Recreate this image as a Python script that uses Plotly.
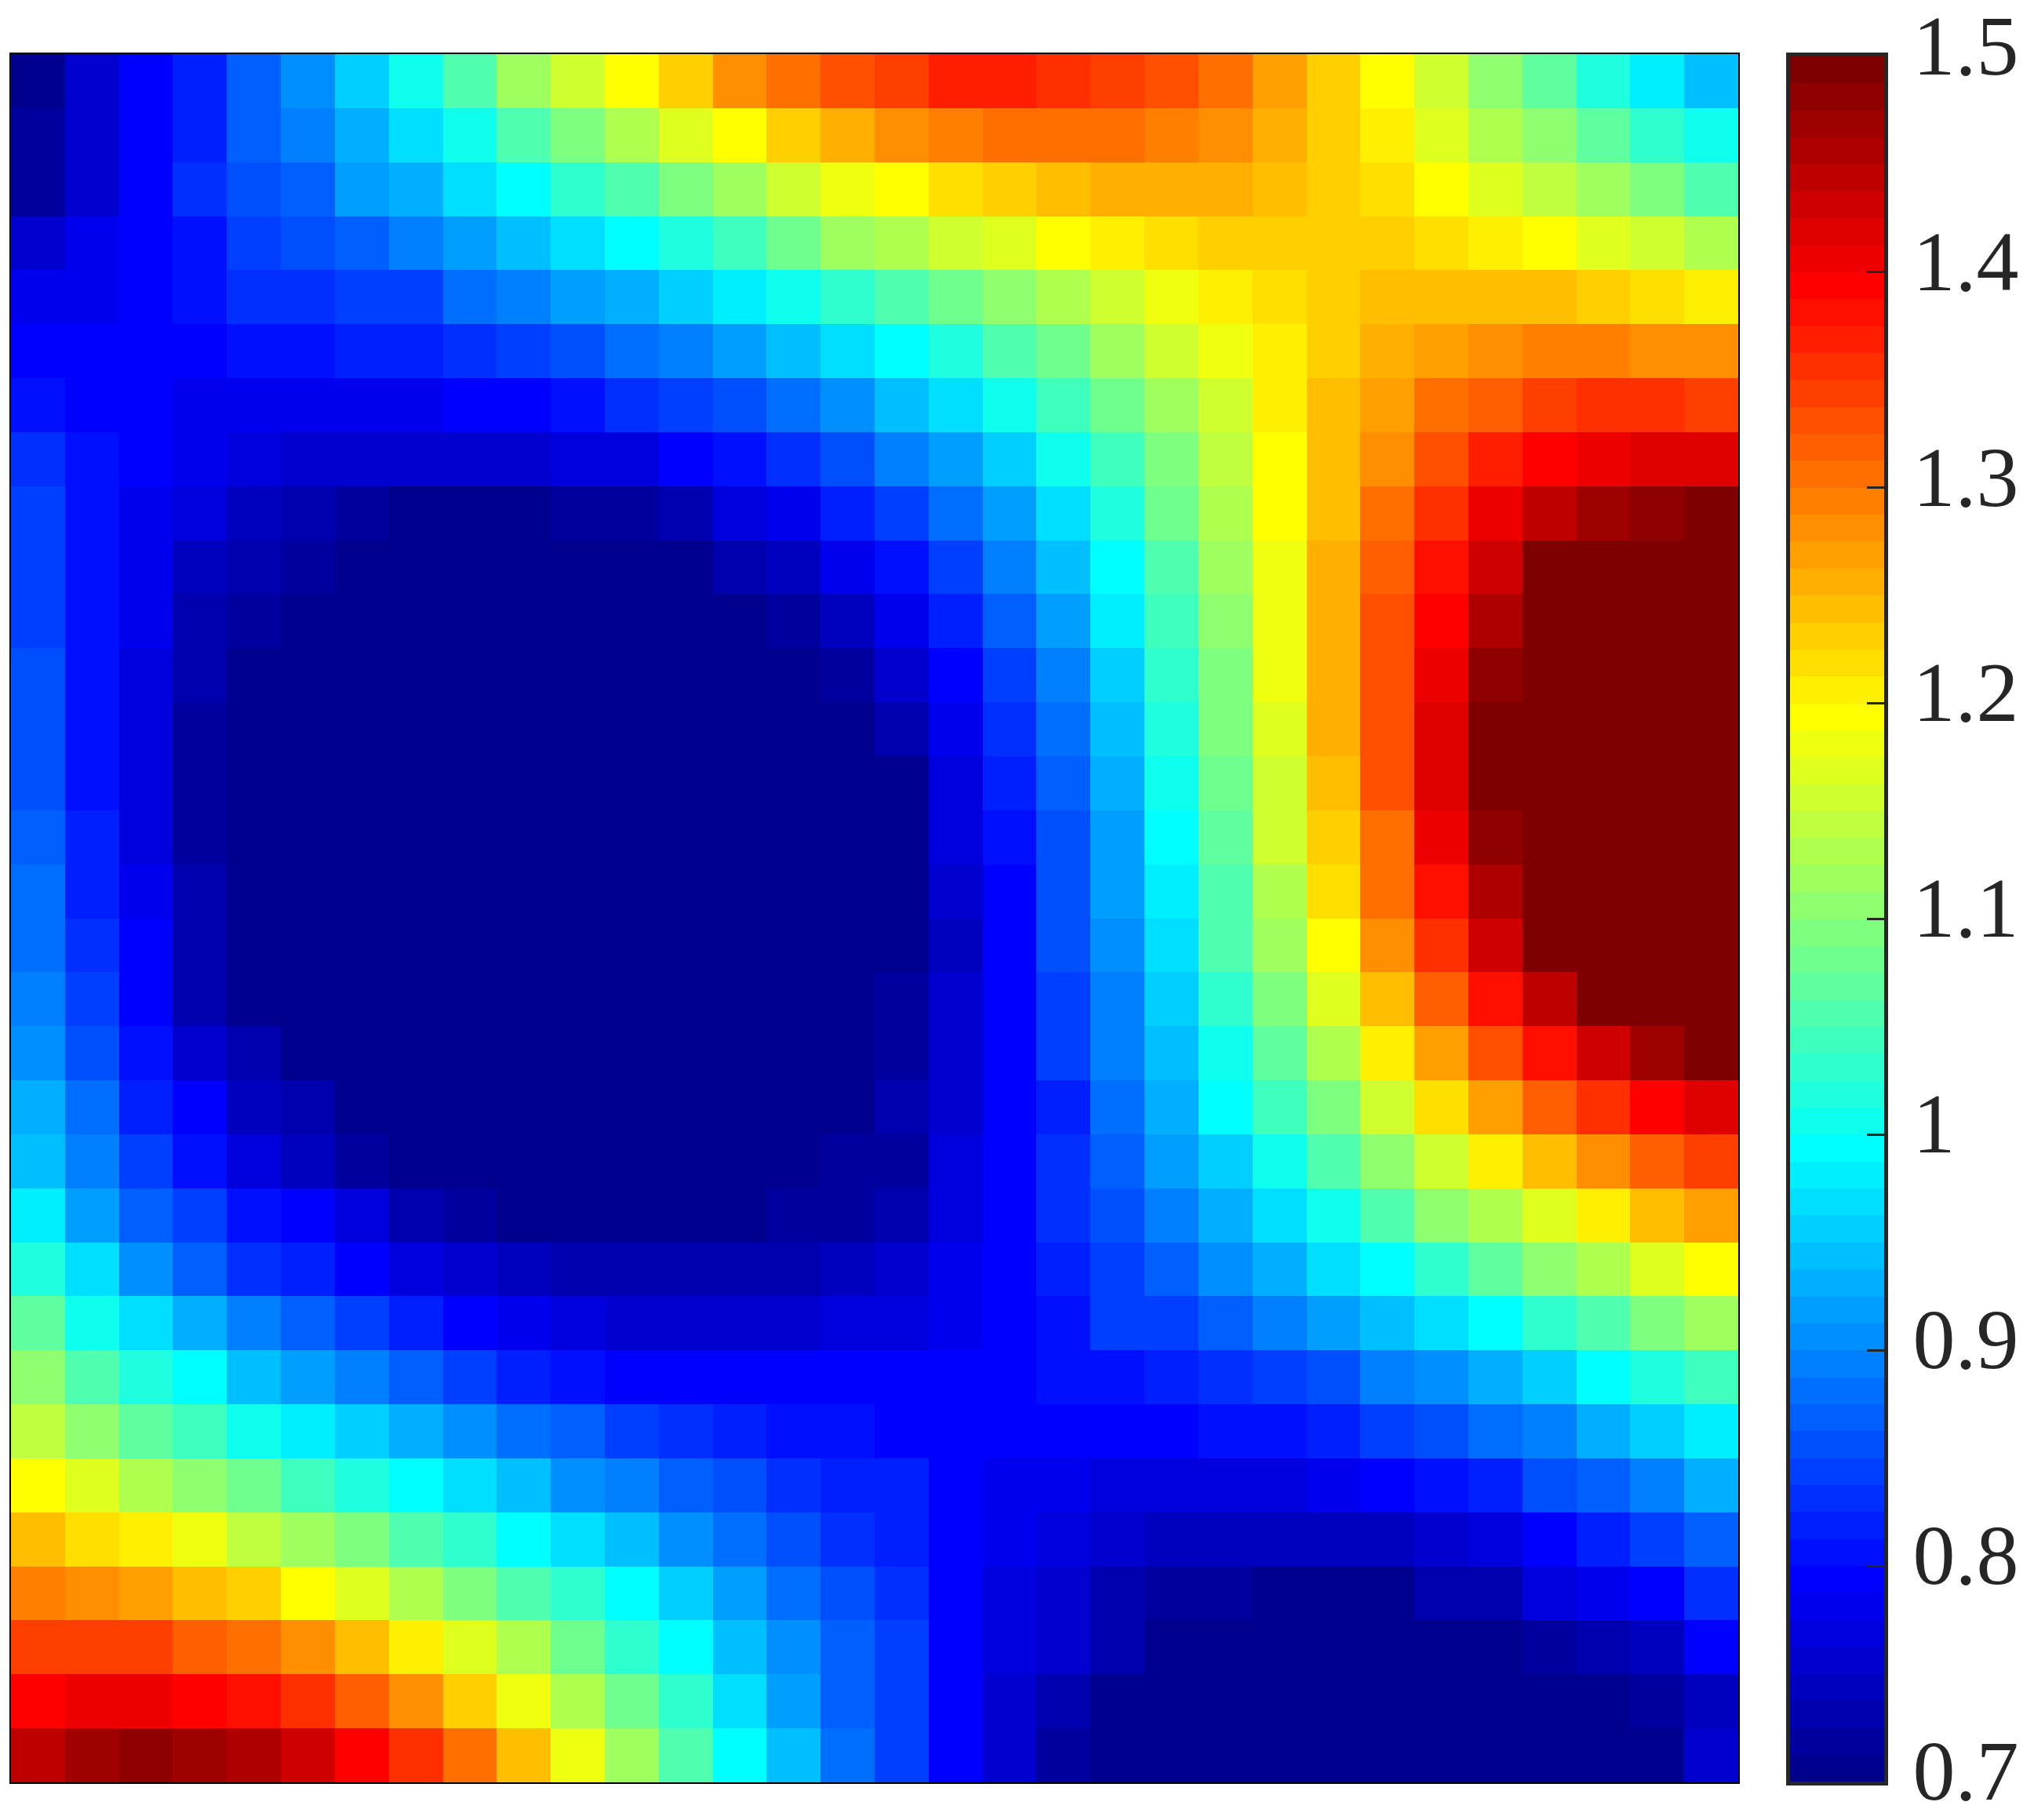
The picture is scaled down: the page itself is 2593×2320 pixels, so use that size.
import plotly.graph_objects as go

W, H = 2593, 2320

levels = [
    [1,5,8,10,14,17,21,25,29,34,37,40,43,47,49,51,52,54,54,53,52,51,49,46,43,40,37,33,30,26,23,20],
    [2,5,8,10,14,16,19,22,25,29,32,35,38,40,43,45,47,48,49,49,49,48,47,45,43,41,38,35,33,30,27,25],
    [2,5,8,11,13,14,18,19,22,24,27,29,32,34,37,39,40,42,43,44,45,45,45,44,43,42,40,38,36,34,32,29],
    [5,7,8,9,12,13,14,16,18,20,22,24,26,28,31,34,35,37,38,40,41,42,43,43,43,43,42,41,40,38,37,35],
    [7,7,8,9,11,11,12,12,15,16,18,19,21,23,25,27,29,31,33,35,37,39,41,42,43,44,44,44,44,43,42,41],
    [8,8,8,8,9,9,10,10,11,12,13,15,16,18,20,22,24,26,29,31,34,37,39,41,43,45,46,47,48,48,47,47],
    [9,8,8,7,7,7,7,7,8,8,9,11,12,13,15,17,20,22,25,28,31,34,37,41,44,46,49,50,52,53,53,52],
    [11,9,8,7,6,5,5,5,5,5,6,6,8,9,11,13,16,18,21,25,28,32,36,40,44,47,51,54,56,57,58,58],
    [12,9,7,6,4,3,2,1,1,1,2,2,3,6,7,10,12,15,18,22,26,31,35,40,44,49,53,57,60,62,63,64],
    [12,9,7,4,3,2,1,1,1,1,1,1,1,3,4,7,9,12,16,20,24,29,34,39,45,50,55,59,64,64,64,64],
    [12,9,7,3,2,1,1,1,1,1,1,1,1,1,2,4,7,10,14,18,23,28,33,39,45,51,56,61,64,64,64,64],
    [13,9,6,3,1,1,1,1,1,1,1,1,1,1,1,2,5,8,12,16,21,27,32,39,45,51,57,63,64,64,64,64],
    [13,9,6,2,1,1,1,1,1,1,1,1,1,1,1,1,3,7,11,15,20,26,32,38,45,51,58,64,64,64,64,64],
    [13,9,6,2,1,1,1,1,1,1,1,1,1,1,1,1,1,6,10,14,19,25,31,37,44,51,58,64,64,64,64,64],
    [14,10,6,2,1,1,1,1,1,1,1,1,1,1,1,1,1,6,9,13,18,24,30,37,43,49,57,63,64,64,64,64],
    [15,10,7,3,1,1,1,1,1,1,1,1,1,1,1,1,1,5,8,13,18,23,29,35,42,49,55,61,64,64,64,64],
    [15,11,8,3,1,1,1,1,1,1,1,1,1,1,1,1,1,4,8,13,17,22,29,34,40,47,53,59,64,64,64,64],
    [16,12,8,3,1,1,1,1,1,1,1,1,1,1,1,1,2,5,8,12,16,21,27,32,38,44,50,55,60,64,64,64],
    [17,13,9,5,3,1,1,1,1,1,1,1,1,1,1,1,2,5,8,12,16,20,25,30,35,41,46,51,55,59,62,64],
    [19,15,10,8,4,3,1,1,1,1,1,1,1,1,1,1,3,5,8,10,15,19,24,28,32,37,42,46,50,53,56,58],
    [20,16,12,9,6,4,2,1,1,1,1,1,1,1,1,2,2,6,8,11,14,18,21,25,29,33,37,41,44,47,50,52],
    [23,18,14,12,9,8,6,3,2,1,1,1,1,1,2,2,3,6,8,11,13,16,19,22,25,29,33,35,38,41,44,46],
    [26,22,17,14,11,10,8,6,5,4,3,3,3,3,3,4,5,7,8,10,12,14,17,19,22,24,27,30,33,35,38,40],
    [30,25,22,19,16,14,12,10,8,7,6,5,5,5,5,6,6,7,8,9,12,12,14,16,18,20,22,24,27,29,32,34],
    [33,29,26,24,20,18,16,14,12,10,9,8,8,8,8,8,8,8,8,9,9,10,11,12,13,16,17,19,21,24,26,28],
    [36,33,30,28,25,23,21,19,17,15,14,12,11,10,9,9,8,8,8,8,8,8,9,9,10,12,13,15,16,19,21,23],
    [40,38,35,33,31,28,26,24,22,20,17,16,14,13,11,10,10,8,7,7,6,6,6,6,7,8,9,10,13,14,16,19],
    [44,42,41,39,36,34,32,29,27,24,22,20,17,15,13,11,10,8,7,6,5,4,4,4,4,4,5,6,8,10,12,14],
    [48,47,46,44,43,40,38,35,32,29,27,24,21,18,15,13,11,8,6,5,3,2,2,1,1,1,3,3,6,7,8,11],
    [52,52,52,50,49,47,44,41,38,35,31,27,24,20,17,14,12,8,6,5,3,1,1,1,1,1,1,1,2,3,4,8],
    [56,57,57,56,55,53,50,47,43,39,35,31,27,22,18,14,12,8,5,3,1,1,1,1,1,1,1,1,1,1,2,4],
    [60,62,63,62,61,59,56,53,49,44,39,34,29,24,20,15,12,8,5,2,1,1,1,1,1,1,1,1,1,1,1,5],
]

z_min = 0.7
z_max = 1.5
tick_vals = [0.7, 0.8, 0.9, 1.0, 1.1, 1.2, 1.3, 1.4, 1.5]
tick_text = ["0.7", "0.8", "0.9", "1", "1.1", "1.2", "1.3", "1.4", "1.5"]

# a level is one 0.0125 wide bin of the colorbar
step = (z_max - z_min) / 64
z = [[z_min + (l - 0.5) * step for l in row] for row in levels]
bar_y = [z_min + (i - 0.5) * step for i in range(1, 65)]


# jet with 64 flat steps
def jet(i):
    t = i * 4 / 64
    r = min(max(min(t - 1.5, 4.5 - t), 0), 1)
    g = min(max(min(t - 0.5, 3.5 - t), 0), 1)
    b = min(max(min(t + 0.5, 2.5 - t), 0), 1)
    return "rgb(%d,%d,%d)" % (r * 255, g * 255, b * 255)


scale = []
for i in range(1, 65):
    scale.append([(i - 1) / 64, jet(i)])
    scale.append([i / 64, jet(i)])

fig = go.Figure()
fig.add_trace(go.Heatmap(z=z, zmin=z_min, zmax=z_max, colorscale=scale, showscale=False))

# colorbar drawn as its own small heatmap so its axis can be styled freely
fig.add_trace(go.Heatmap(
    x=[0],
    y=bar_y,
    z=[[v] for v in bar_y],
    zmin=z_min,
    zmax=z_max,
    colorscale=scale,
    showscale=False,
    xaxis="x2",
    yaxis="y2",
))

frame = dict(automargin=False, showticklabels=False, ticks="", showgrid=False, zeroline=False, showline=True, mirror=True)

fig.update_layout(
    width=W,
    height=H,
    margin=dict(l=0, r=0, t=0, b=0),
    paper_bgcolor="white",
    plot_bgcolor="white",
    xaxis=dict(domain=[14 / W, 2216 / W], linecolor="black", linewidth=2, **frame),
    yaxis=dict(domain=[1 - 2272 / H, 1 - 69 / H], autorange="reversed", linecolor="black", linewidth=2, **frame),
    xaxis2=dict(domain=[2282 / W, 2402 / W], anchor="y2", linecolor="#262626", linewidth=5, **frame),
    yaxis2=dict(
        domain=[1 - 2271 / H, 1 - 72 / H],
        anchor="x2",
        side="right",
        automargin=False,
        range=[z_min, z_max],
        tickmode="array",
        tickvals=tick_vals,
        ticktext=tick_text,
        ticks="inside",
        ticklen=22,
        tickwidth=3,
        tickcolor="#262626",
        tickfont=dict(family="Liberation Serif", size=108, color="#262626"),
        ticklabelstandoff=10,
        ticklabelshift=-15,
        ticklabeloverflow="allow",
        showgrid=False,
        zeroline=False,
        showline=True,
        mirror=True,
        linecolor="#262626",
        linewidth=5,
    ),
)

fig.write_html("out.html", config=dict(displayModeBar=False), post_script="document.body.style.margin='0';")
